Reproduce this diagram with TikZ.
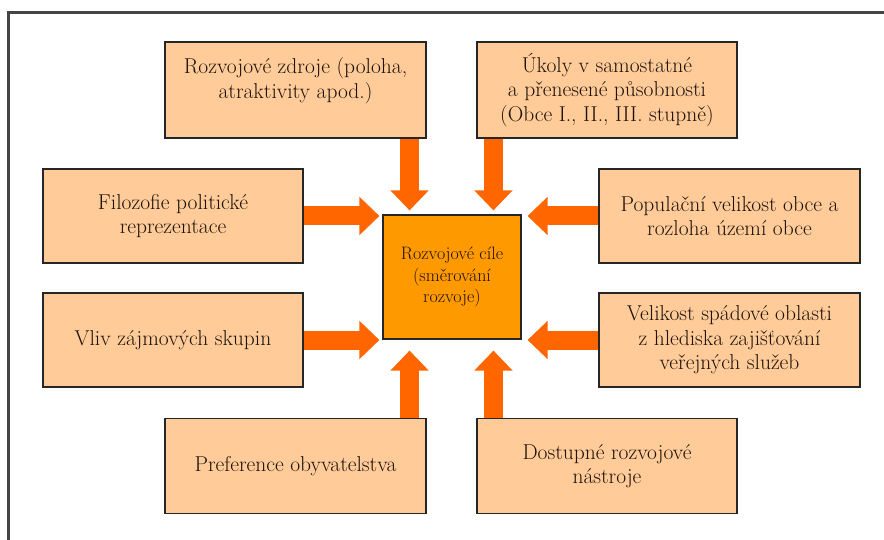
\documentclass[tikz,border=0pt]{standalone}
\usepackage{xcolor}
\usetikzlibrary{arrows.meta}

\definecolor{boxfill}{HTML}{FFCC99}
\definecolor{goalfill}{HTML}{FF9900}
\definecolor{arrowfill}{HTML}{FF6600}
\definecolor{textbrown}{HTML}{1E120A}
\definecolor{framegray}{HTML}{444444}

\tikzset{
  factorbox/.style={draw=black!85, line width=1.1pt, fill=boxfill, align=center,
    text=textbrown, inner sep=4pt, font=\fontsize{21.5}{24.5}\selectfont},
  goalbox/.style={draw=black!85, line width=1.1pt, fill=goalfill, align=center,
    text=textbrown, minimum width=138pt, minimum height=124pt,
    font=\fontsize{18}{21.5}\selectfont},
  blockarrow/.style={draw=arrowfill, line width=19pt,
    -{Triangle[width=37pt,length=20pt]}}
}

\begin{document}
\begin{tikzpicture}[x=1pt,y=-1pt]
\useasboundingbox (0,0) rectangle (884,540);

% frame (only top and left edges are in view)
\draw[framegray, line width=3pt] (8,540) -- (8,13) -- (884,13);

% goal in the middle
\node[goalbox] (cile) at (452,277) {Rozvojové cíle\\(směrování\\rozvoje)};

% factors on top
\node[factorbox, minimum width=261pt, minimum height=96pt] (zdroje) at (295.5,90)
  {Rozvojové zdroje (poloha,\\atraktivity apod.)\\[0pt]\mbox{}};
\node[factorbox, minimum width=260pt, minimum height=96pt] (ukoly) at (607,90)
  {Úkoly v samostatné\\a přenesené působnosti\\(Obce I., II., III. stupně)};

% factors on the left
\node[factorbox, minimum width=260pt, minimum height=94pt] (filozofie) at (173,216)
  {Filozofie politické\\reprezentace};
\node[factorbox, minimum width=260pt, minimum height=94pt] (vliv) at (173,340)
  {Vliv zájmových skupin};

% factors on the right
\node[factorbox, minimum width=261pt, minimum height=94pt] (populace) at (729.5,216)
  {Populační velikost obce a\\rozloha území obce};
\node[factorbox, minimum width=261pt, minimum height=94pt] (spad) at (729.5,340)
  {Velikost spádové oblasti\\z hlediska zajišťování\\veřejných služeb};

% factors at the bottom
\node[factorbox, minimum width=261pt, minimum height=95pt] (preference) at (295.5,466)
  {Preference obyvatelstva};
\node[factorbox, minimum width=260pt, minimum height=95pt] (nastroje) at (607,466)
  {Dostupné rozvojové\\nástroje};

% block arrows towards the goal
\draw[blockarrow, shorten >=4pt] ([xshift=-17pt]zdroje.south east)
  -- ([xshift=-17pt]zdroje.south east |- cile.north);
\draw[blockarrow, shorten >=4pt] ([xshift=17pt]ukoly.south west)
  -- ([xshift=17pt]ukoly.south west |- cile.north);
\draw[blockarrow, shorten >=3pt] (filozofie.east) -- (filozofie.east -| cile.west);
\draw[blockarrow, shorten >=3pt] (vliv.east) -- (vliv.east -| cile.west);
\draw[blockarrow, shorten >=6pt] (populace.west) -- (populace.west -| cile.east);
\draw[blockarrow, shorten >=6pt] (spad.west) -- (spad.west -| cile.east);
\draw[blockarrow, shorten >=11pt] ([xshift=-17pt]preference.north east)
  -- ([xshift=-17pt]preference.north east |- cile.south);
\draw[blockarrow, shorten >=11pt] ([xshift=17pt]nastroje.north west)
  -- ([xshift=17pt]nastroje.north west |- cile.south);
\end{tikzpicture}
\end{document}
